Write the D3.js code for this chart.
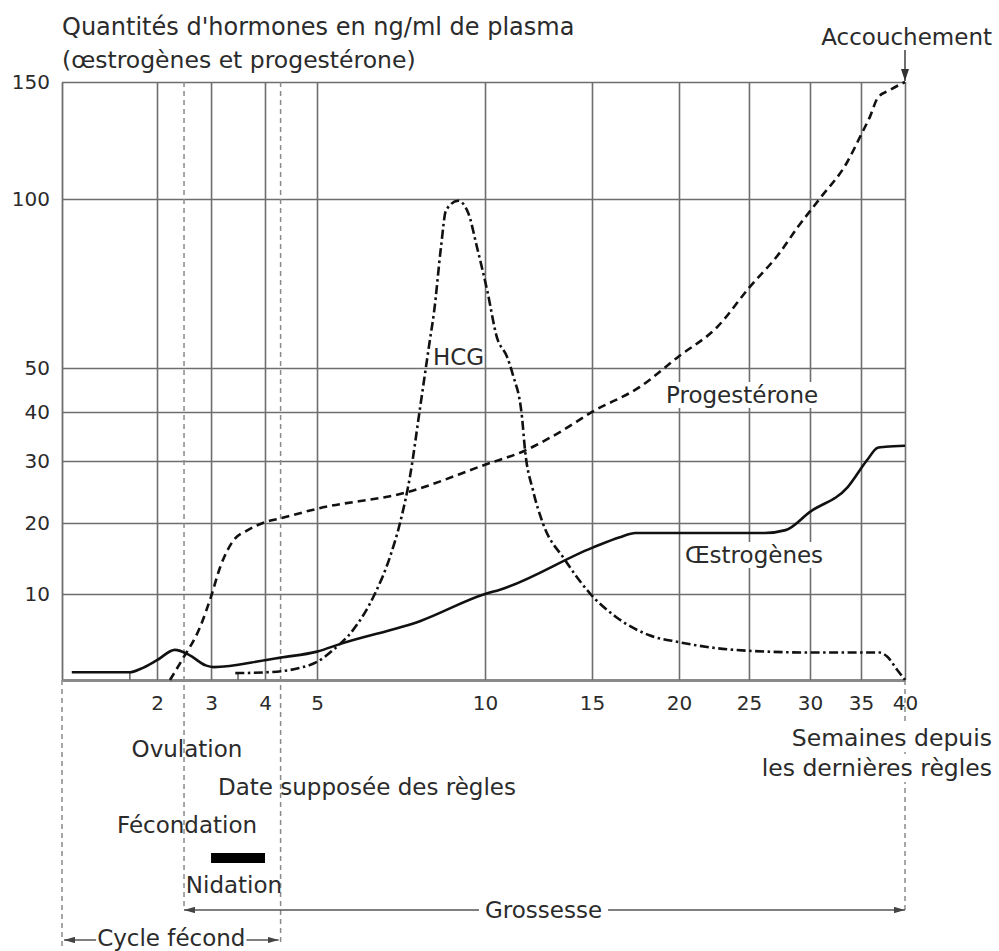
<!DOCTYPE html>
<html><head><meta charset="utf-8">
<script src="https://cdn.jsdelivr.net/npm/d3@7"></script>
<style>
html,body{margin:0;padding:0;background:#fff;}
svg{display:block;}
text{font-family:"DejaVu Sans",sans-serif;fill:#2b2b2b;}
</style></head><body>
<svg id="chart" width="999" height="951"></svg>
<script>
// ---------------- DATA ----------------
const xTicks = [2, 3, 4, 5, 10, 15, 20, 25, 30, 35, 40];
const xMinorTicks = [1.5, 3.5];
const yTicks = [10, 20, 30, 40, 50, 100, 150];

// [semaine, ng/ml]
const oestrogenes = [[0.43,0.9],[1.5,0.9],[1.7,1.3],[2.0,2.3],[2.33,3.5],[2.6,2.9],[2.9,1.7],[3.05,1.5],[4,2.3],[4.3,2.6],[5,3.3],[5.7,4.2],[8.1,6.9],[10,10],[10.7,10.6],[15,16.5],[16.6,18],[17.5,18.6],[26.3,18.6],[28,19],[30,21.8],[33.7,25.8],[35.7,30.2],[36.9,32.7],[37.8,32.9],[40,33.1]];
const progesterone = [[2.24,0],[2.46,2.3],[2.8,6.2],[3,9.7],[3.17,13.8],[3.42,17.6],[3.68,19.0],[3.96,20],[4.32,20.8],[5,22.3],[7.7,25],[10,29.4],[11.8,32],[13.5,35.9],[15,40],[17.75,45.7],[20,53.5],[22.7,62],[25,73.7],[27.5,84],[29,91.7],[31,100.4],[33.6,115.4],[35,127.4],[36,135],[36.9,143.2],[38.3,146.6],[40,150]];
const hcg = [[3.45,0.8],[4.04,0.9],[4.66,1.4],[5,2.1],[5.48,3.5],[6.07,5.8],[6.73,10.1],[7.17,15.2],[7.47,20],[7.77,27.6],[8.07,41.1],[8.36,58.3],[8.48,66.3],[8.69,85.8],[8.84,96.7],[9.2,99.5],[9.5,95.9],[9.76,85.8],[10.1,73],[10.56,59],[11.03,53.3],[11.3,48.5],[11.73,38.9],[11.87,32.2],[12.24,25.3],[12.7,20],[13.74,14.8],[14.9,10.1],[16.4,7.3],[18.3,5.2],[20,4.4],[22.7,3.7],[26.5,3.3],[30,3.2],[37.1,3.2],[38,2.7],[39.1,1.2],[40,0]];

const nidation = [3, 4];          // semaines
const cycleStartWeek = 0.25;
const fecondationWeek = 2.5;
const reglesWeek = 4.3;
const accouchementWeek = 40;

// ---------------- LAYOUT ----------------
const plot = {left: 62, top: 82, right: 905, bottom: 680};
const xBreaks = [0.25, 2, 3, 4, 5, 10, 15, 20, 25, 30, 35, 40];
const xFrac   = [0, 0.1127, 0.1768, 0.2408, 0.3025, 0.5018, 0.6287, 0.7319, 0.8149, 0.8873, 0.9478, 1];
const yBreaks = [0, 10, 20, 30, 40, 50, 100, 150];
const yFrac   = [0, 0.1438, 0.2625, 0.3662, 0.4482, 0.5217, 0.8043, 1];

const svg = d3.select("#chart");
const pw = plot.right - plot.left, ph = plot.bottom - plot.top;
const x = d3.scaleLinear().domain(xBreaks).range(xFrac.map(f => plot.left + f * pw));
const y = d3.scaleLinear().domain(yBreaks).range(yFrac.map(f => plot.bottom - f * ph));

const defs = svg.append("defs");
function marker(id, color, len, half) {
  defs.append("marker").attr("id", id).attr("markerUnits", "userSpaceOnUse")
    .attr("viewBox", `0 ${-half} ${len} ${2*half}`).attr("refX", len).attr("refY", 0)
    .attr("markerWidth", len).attr("markerHeight", 2*half).attr("orient", "auto-start-reverse")
    .append("path").attr("d", `M0,${-half}L${len},0L0,${half}Z`).attr("fill", color);
}
marker("arr", "#444", 11, 3.2);
marker("arrBig", "#333", 12, 4);

// ---------------- GRID / AXES ----------------
const gx = svg.append("g").attr("transform", `translate(0,${plot.bottom})`)
  .call(d3.axisBottom(x).tickValues(xTicks).tickSize(-ph).tickSizeOuter(0).tickPadding(16).tickFormat(d3.format("d")));
gx.attr("font-family", "DejaVu Sans").attr("font-size", 20);
gx.selectAll(".tick line").attr("stroke", "#6e6e6e").attr("stroke-width", 1.6);
gx.selectAll(".tick text").attr("fill", "#333");

const gy = svg.append("g").attr("transform", `translate(${plot.left},0)`)
  .call(d3.axisLeft(y).tickValues(yTicks).tickSize(-pw).tickSizeOuter(0).tickPadding(12));
gy.attr("font-family", "DejaVu Sans").attr("font-size", 20);
gy.selectAll(".tick line").attr("stroke", "#6e6e6e").attr("stroke-width", 1.6);
gy.selectAll(".tick text").attr("fill", "#333");
gy.select(".domain").attr("stroke", "#6e6e6e").attr("stroke-width", 1.8);
gx.select(".domain").attr("stroke", "#8a8a8a").attr("stroke-width", 2.8);
gx.raise();

// minor ticks
svg.append("g").selectAll("line").data(xMinorTicks).join("line")
  .attr("x1", d => x(d)).attr("x2", d => x(d)).attr("y1", plot.bottom - 8).attr("y2", plot.bottom)
  .attr("stroke", "#6e6e6e").attr("stroke-width", 1.6);

// ---------------- DASHED VERTICAL MARKERS ----------------
const vdash = [
  {w: cycleStartWeek, y1: plot.bottom, y2: 946},
  {w: fecondationWeek, y1: plot.top, y2: 910},
  {w: reglesWeek, y1: plot.top, y2: 946},
  {w: accouchementWeek, y1: plot.bottom, y2: 910}
];
svg.append("g").selectAll("line").data(vdash).join("line")
  .attr("x1", d => x(d.w)).attr("x2", d => x(d.w)).attr("y1", d => d.y1).attr("y2", d => d.y2)
  .attr("stroke", "#8a8a8a").attr("stroke-width", 1.5).attr("stroke-dasharray", "5,4");

// ---------------- LABELS ----------------
function label(txt, px, py, anchor, size, bg, pad) {
  const g = svg.append("g");
  const t = g.append("text").attr("x", px).attr("y", py).attr("text-anchor", anchor || "start")
    .attr("font-size", size || 23).text(txt);
  if (bg) {
    const b = t.node().getBBox();
    const p = pad == null ? 3 : pad;
    g.insert("rect", "text").attr("x", b.x - p).attr("y", b.y).attr("width", b.width + 2*p)
      .attr("height", b.height).attr("fill", "#fff");
  }
  return g;
}
label("Quantités d'hormones en ng/ml de plasma", 62, 35, "start", 24);
label("(œstrogènes et progestérone)", 62, 68, "start", 23.5);
label("Accouchement", 992, 45, "end", 23);
label("Progestérone", 666, 403, "start", 23, true, 2);
label("Œstrogènes", 685, 563, "start", 23, true, 2);
label("HCG", 433, 365, "start", 23);
label("Semaines depuis", 992, 746, "end", 23.5, true, 1);
label("les dernières règles", 992, 776, "end", 23.5, true, 1);
label("Ovulation", 187, 757, "middle", 23);
label("Date supposée des règles", 218, 795, "start", 23);
label("Fécondation", 187, 833, "middle", 23);
label("Nidation", 234, 893, "middle", 23);

// ---------------- ARROWS ----------------
// Accouchement
svg.append("line").attr("x1", x(accouchementWeek)).attr("x2", x(accouchementWeek))
  .attr("y1", 50).attr("y2", plot.top - 1).attr("stroke", "#333").attr("stroke-width", 1.4)
  .attr("marker-end", "url(#arrBig)");
// Grossesse
svg.append("line").attr("x1", x(fecondationWeek)).attr("x2", x(accouchementWeek))
  .attr("y1", 910).attr("y2", 910).attr("stroke", "#555").attr("stroke-width", 1.4)
  .attr("marker-start", "url(#arr)").attr("marker-end", "url(#arr)");
label("Grossesse", (x(fecondationWeek) + x(accouchementWeek)) / 2 - 1, 918, "middle", 23, true, 6);
// Cycle fécond
svg.append("line").attr("x1", x(cycleStartWeek) + 2).attr("x2", x(reglesWeek) - 2)
  .attr("y1", 940).attr("y2", 940).attr("stroke", "#555").attr("stroke-width", 1.4)
  .attr("marker-start", "url(#arr)").attr("marker-end", "url(#arr)");
label("Cycle fécond", (x(cycleStartWeek) + x(reglesWeek)) / 2, 946, "middle", 23, true, 1);

// ---------------- NIDATION BAR ----------------
svg.append("rect").attr("x", x(nidation[0])).attr("width", x(nidation[1]) - x(nidation[0]))
  .attr("y", 853).attr("height", 10).attr("fill", "#000");

// ---------------- CURVES ----------------
const line = d3.line().x(d => x(d[0])).y(d => y(d[1])).curve(d3.curveMonotoneX);
const series = [
  {data: oestrogenes, dash: null},
  {data: progesterone, dash: "8,5"},
  {data: hcg, dash: "9,3.5,2.5,3.5"}
];
svg.append("g").selectAll("path").data(series).join("path")
  .attr("d", d => line(d.data)).attr("fill", "none").attr("stroke", "#111")
  .attr("stroke-width", 2.6).attr("stroke-dasharray", d => d.dash)
  .attr("stroke-linejoin", "round");
</script>
</body></html>
